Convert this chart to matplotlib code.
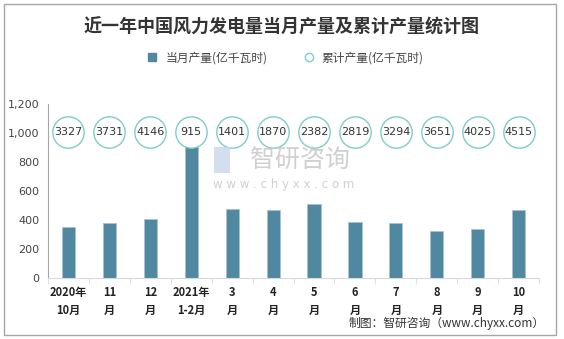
import matplotlib.pyplot as plt
from matplotlib.lines import Line2D
from matplotlib.patches import Rectangle

plt.rcParams['font.family'] = ['Noto Sans CJK SC', 'DejaVu Sans']

months = ['2020年\n10月', '11\n月', '12\n月', '2021年\n1-2月', '3\n月', '4\n月',
          '5\n月', '6\n月', '7\n月', '8\n月', '9\n月', '10\n月']
monthly = [354, 379, 409, 915, 474, 467, 508, 386, 379, 322, 340, 467]
cumulative = [3327, 3731, 4146, 915, 1401, 1870, 2382, 2819, 3294, 3651, 4025, 4515]

bar_color = '#4f88a0'
ring_color = '#7fcdc8'

fig = plt.figure(figsize=(5.64, 3.39), dpi=100)
ax = fig.add_axes([0.085, 0.18, 0.871, 0.513])

x = range(len(months))
ax.bar(x, monthly, width=0.32, color=bar_color, edgecolor='#a9c3d0', linewidth=0.6)

# cumulative totals shown as ringed labels along the top
ring_y = 1010
ax.scatter(x, [ring_y] * len(x), s=510, facecolor='white', edgecolor=ring_color,
           linewidth=1.0, zorder=3, clip_on=False)
for i, v in enumerate(cumulative):
    ax.text(i, ring_y, str(v), ha='center', va='center', fontsize=8,
            color='#333333', zorder=4, family='DejaVu Sans')

ax.set_xlim(-0.5, len(months) - 0.5)
ax.set_ylim(0, 1200)
ax.set_yticks(range(0, 1201, 200))
ax.set_yticklabels([f'{v:,}' for v in range(0, 1201, 200)], fontsize=8,
                   color='#444444', family='DejaVu Sans')
ax.set_xticks(x)
ax.set_xticklabels(months, fontsize=8, fontweight='bold', color='#222222',
                   linespacing=1.5)
ax.set_xticks([i + 0.5 for i in range(-1, len(months))], minor=True)
ax.tick_params(axis='x', which='major', length=0, pad=6)
ax.tick_params(axis='x', which='minor', length=4, color='#d9d9d9')
ax.tick_params(axis='y', length=0, pad=6)

for side in ['top', 'right']:
    ax.spines[side].set_visible(False)
ax.spines['left'].set_color('#a6a6a6')
ax.spines['bottom'].set_color('#d9d9d9')

# watermark
fig.patches.append(Rectangle((0.38, 0.49), 0.028, 0.075, transform=fig.transFigure,
                             facecolor='#c9d6ea', edgecolor='none', alpha=0.8))
fig.text(0.532, 0.527, '智研咨询', fontsize=18, color='#c8c8c8', ha='center',
         va='center', alpha=0.85)
fig.text(0.502, 0.455, 'w w w . c h y x x . c o m', fontsize=8.5, color='#c8c8c8',
         ha='center', va='center', alpha=0.85, family='DejaVu Sans')

fig.text(0.5, 0.92, '近一年中国风力发电量当月产量及累计产量统计图', fontsize=13,
         fontweight='bold', ha='center', va='center', color='#333333')

handles = [
    Line2D([], [], marker='s', linestyle='none', markersize=6,
           markerfacecolor=bar_color, markeredgecolor=bar_color),
    Line2D([], [], marker='o', linestyle='none', markersize=6,
           markerfacecolor='white', markeredgecolor=ring_color),
]
fig.legend(handles, ['当月产量(亿千瓦时)', '累计产量(亿千瓦时)'], loc='center',
           bbox_to_anchor=(0.5, 0.83), ncol=2, frameon=False, fontsize=8.5,
           handletextpad=0.1, columnspacing=2.5, labelcolor='#444444')

fig.text(0.965, 0.045, '制图：智研咨询（www.chyxx.com）', fontsize=8.5,
         ha='right', va='center', color='#333333')

fig.patches.append(Rectangle((0.007, 0.012), 0.978, 0.976, transform=fig.transFigure,
                             fill=False, edgecolor='#a6a6a6', linewidth=1.0))

fig.savefig('out.png', dpi=100)
